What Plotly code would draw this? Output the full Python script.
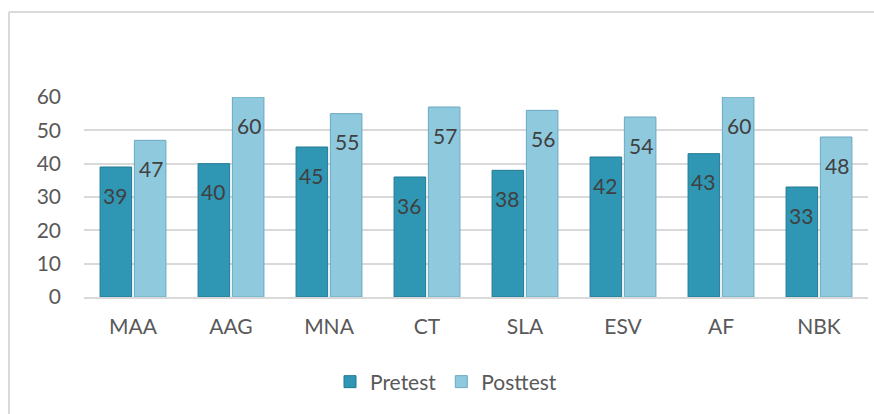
import plotly.graph_objects as go

categories = ["MAA", "AAG", "MNA", "CT", "SLA", "ESV", "AF", "NBK"]
pretest = [39, 40, 45, 36, 38, 42, 43, 33]
posttest = [47, 60, 55, 57, 56, 54, 60, 48]
y_ticks = [0, 10, 20, 30, 40, 50, 60]

FONT = "Lato"
FS = 21
PRE_COLOR = "#2f96b4"
POST_COLOR = "#8fc9de"

fig = go.Figure()
fig.add_trace(go.Bar(
    name="Pretest", x=categories, y=pretest,
    marker=dict(color=PRE_COLOR, line=dict(color="#237a93", width=1)),
))
fig.add_trace(go.Bar(
    name="Posttest", x=categories, y=posttest,
    marker=dict(color=POST_COLOR, line=dict(color="#6aa9c0", width=1)),
))

annotations = []
for cat, v in zip(categories, pretest):
    annotations.append(dict(x=cat, y=v, text=str(v), showarrow=False, xshift=-18, yshift=-28,
                            yanchor="middle", font=dict(family=FONT, size=FS, color="#404040")))
for cat, v in zip(categories, posttest):
    annotations.append(dict(x=cat, y=v, text=str(v), showarrow=False, xshift=18, yshift=-28,
                            yanchor="middle", font=dict(family=FONT, size=FS, color="#404040")))

W, H = 874, 414
L, T, R, B = 84, 97, 6, 117
pw, ph = W - L - R, H - T - B

def px_x(x):
    return (x - L) / pw

def px_y(y):
    return (H - B - y) / ph

border = dict(color="#d9d9d9", width=2)
shapes = [
    dict(type="line", xref="paper", yref="paper", x0=px_x(9), x1=px_x(W + 10),
         y0=px_y(12), y1=px_y(12), line=border, layer="below"),
    dict(type="line", xref="paper", yref="paper", x0=px_x(9), x1=px_x(9),
         y0=px_y(12), y1=px_y(H + 10), line=border, layer="below"),
]

fig.update_layout(
    width=W, height=H,
    margin=dict(l=L, r=R, t=T, b=B, autoexpand=False),
    paper_bgcolor="white", plot_bgcolor="white",
    barmode="group", bargap=0.30, bargroupgap=0.08,
    font=dict(family=FONT, size=FS, color="#595959"),
    showlegend=True,
    legend=dict(orientation="h", x=px_x(446), xanchor="center",
                y=px_y(382), yanchor="middle",
                font=dict(family=FONT, size=FS, color="#595959"),
                itemwidth=30, traceorder="normal"),
    annotations=annotations,
    shapes=shapes,
    xaxis=dict(showgrid=False, showline=True, linecolor="#d9d9d9", linewidth=2,
               ticks="", ticklabelstandoff=10,
               tickfont=dict(family=FONT, size=FS, color="#595959")),
    yaxis=dict(range=[0, 60], tickvals=y_ticks, showgrid=True, gridcolor="#d9d9d9",
               gridwidth=1.5, zeroline=False, showline=False, ticks="",
               ticklabelstandoff=22,
               tickfont=dict(family=FONT, size=FS, color="#595959")),
)

fig.write_html(
    "out.html",
    config={"displayModeBar": False},
    post_script=(
        "document.body.style.margin='0';"
        "document.body.style.overflow='hidden';"
        "document.documentElement.style.overflow='hidden';"
    ),
)
